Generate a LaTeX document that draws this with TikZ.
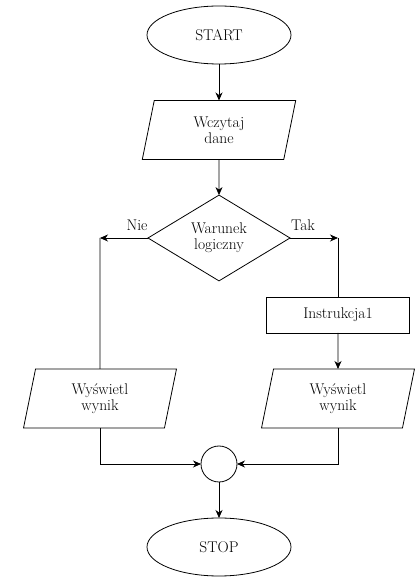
\documentclass[tikz,border=0pt]{standalone}
\usetikzlibrary{shapes.geometric,arrows.meta}
\begin{document}
\begin{tikzpicture}[x=1pt,y=1pt,
  every node/.style={font=\fontsize{15.5}{16}\selectfont, align=center, line width=0.8pt, inner sep=0pt, outer sep=0pt},
  terminal/.style={draw, ellipse, minimum width=144pt, minimum height=58pt},
  iobox/.style={draw, trapezium, trapezium left angle=80, trapezium right angle=100, trapezium stretches=true, minimum width=154pt, minimum height=59pt},
  decision/.style={draw, diamond, minimum width=142pt, minimum height=82pt},
  process/.style={draw, rectangle, minimum width=143pt, minimum height=36pt},
  joint/.style={draw, circle, minimum size=36pt},
  conn/.style={line width=0.8pt},
  arr/.style={conn, -{Stealth[length=8pt,width=7pt,inset=2.5pt]}}
]
\useasboundingbox (0,0) rectangle (420,587);
\node[terminal] (start) at (219,552) {START};
\node[iobox] (read) at (219,457) {Wczytaj\\dane};
\node[decision] (cond) at (219,349) {Warunek\\logiczny};
\coordinate (nieC) at (100,349);
\coordinate (takC) at (338,349);
\node[process] (instr) at (338,272) {Instrukcja1};
\node[iobox] (outL) at (100,188.5) {Wyświetl\\wynik};
\node[iobox] (outR) at (338,188.5) {Wyświetl\\wynik};
\node[joint] (join) at (219,123) {};
\node[terminal] (stop) at (219,40) {STOP};
\node (nie) at (137,362) {Nie};
\node (tak) at (303,362) {Tak};
\draw[arr] (start) -- (read);
\draw[arr] (read) -- (cond);
\draw[arr] (cond.west) -- (nieC);
\draw[conn] (nieC) -- (outL.north);
\draw[arr] (cond.east) -- (takC);
\draw[conn] (takC) -- (instr.north);
\draw[arr] (instr) -- (outR);
\draw[arr] (outL.south) |- (join.west);
\draw[arr] (outR.south) |- (join.east);
\draw[arr] (join) -- (stop);
\end{tikzpicture}
\end{document}
